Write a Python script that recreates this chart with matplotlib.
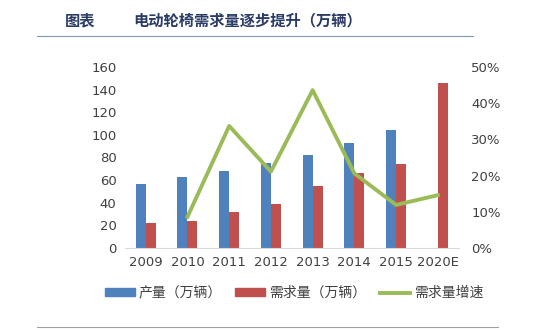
import numpy as np
import matplotlib
matplotlib.use('Agg')
import matplotlib.pyplot as plt
from matplotlib.lines import Line2D
from matplotlib.patches import Patch

plt.rcParams['font.family'] = ['Noto Sans CJK SC', 'DejaVu Sans']

# data
years = ['2009', '2010', '2011', '2012', '2013', '2014', '2015', '2020E']
production = [57, 63, 68, 75, 82, 92.5, 104, np.nan]
demand = [22, 24, 32, 39, 55, 66.5, 74.5, 145.5]
growth = [np.nan, 8.6, 33.7, 21.1, 43.6, 20.6, 11.9, 14.6]

blue = '#4F81BD'
red = '#C0504D'
green = '#9BBB59'
txt = '#404040'

fig = plt.figure(figsize=(5.5, 3.3), dpi=100)
ax = fig.add_axes([0.227, 0.2485, 0.607, 0.5485])
x = np.arange(len(years))
w = 0.24
ax.bar(x - w / 2, production, w, color=blue)
ax.bar(x + w / 2, demand, w, color=red)
ax.set_xlim(-0.5, len(years) - 0.5)
ax.set_ylim(0, 160)
ax.set_yticks(range(0, 161, 20))
ax.set_xticks(x)
ax.set_xticklabels(years)
for s in ['top', 'left', 'right']:
    ax.spines[s].set_visible(False)
ax.spines['bottom'].set_color('#D9D9D9')
ax.tick_params(axis='both', length=0, labelsize=9.5, colors=txt, pad=6)
for lab in ax.get_xticklabels() + ax.get_yticklabels():
    lab.set_family('DejaVu Sans')

ax2 = ax.twinx()
ax2.plot(x, growth, color=green, lw=2.8)
ax2.set_ylim(0, 50)
ax2.set_yticks(range(0, 51, 10))
ax2.set_yticklabels([f'{v}%' for v in range(0, 51, 10)])
for s in ['top', 'left', 'right', 'bottom']:
    ax2.spines[s].set_visible(False)
ax2.tick_params(axis='y', length=0, labelsize=9.5, colors=txt, pad=9)
for lab in ax2.get_yticklabels():
    lab.set_family('DejaVu Sans')

# title
fig.text(65 / 550, 1 - 20 / 330, '图表', fontsize=11, fontweight='bold',
         color='#2A3B66', va='center')
fig.text(133 / 550, 1 - 20 / 330, '电动轮椅需求量逐步提升（万辆）', fontsize=11,
         fontweight='bold', color='#2A3B66', va='center')
fig.add_artist(Line2D([37 / 550, 473 / 550], [1 - 36 / 330, 1 - 36 / 330],
                      color='#8497B0', lw=0.8))
fig.add_artist(Line2D([37 / 550, 498 / 550], [1 - 327 / 330, 1 - 327 / 330],
                      color='#A0A0A0', lw=0.8))

handles = [Patch(color=blue), Patch(color=red), Line2D([], [], color=green, lw=2.8)]
labels = ['产量（万辆）', '需求量（万辆）', '需求量增速']
fig.legend(handles, labels, loc='center', bbox_to_anchor=(294 / 550, 1 - 293 / 330),
           ncol=3, frameon=False, fontsize=10, labelcolor=txt,
           handlelength=2.15, handleheight=0.45, columnspacing=0.95, handletextpad=0.3)

fig.savefig('out.png', dpi=100)
